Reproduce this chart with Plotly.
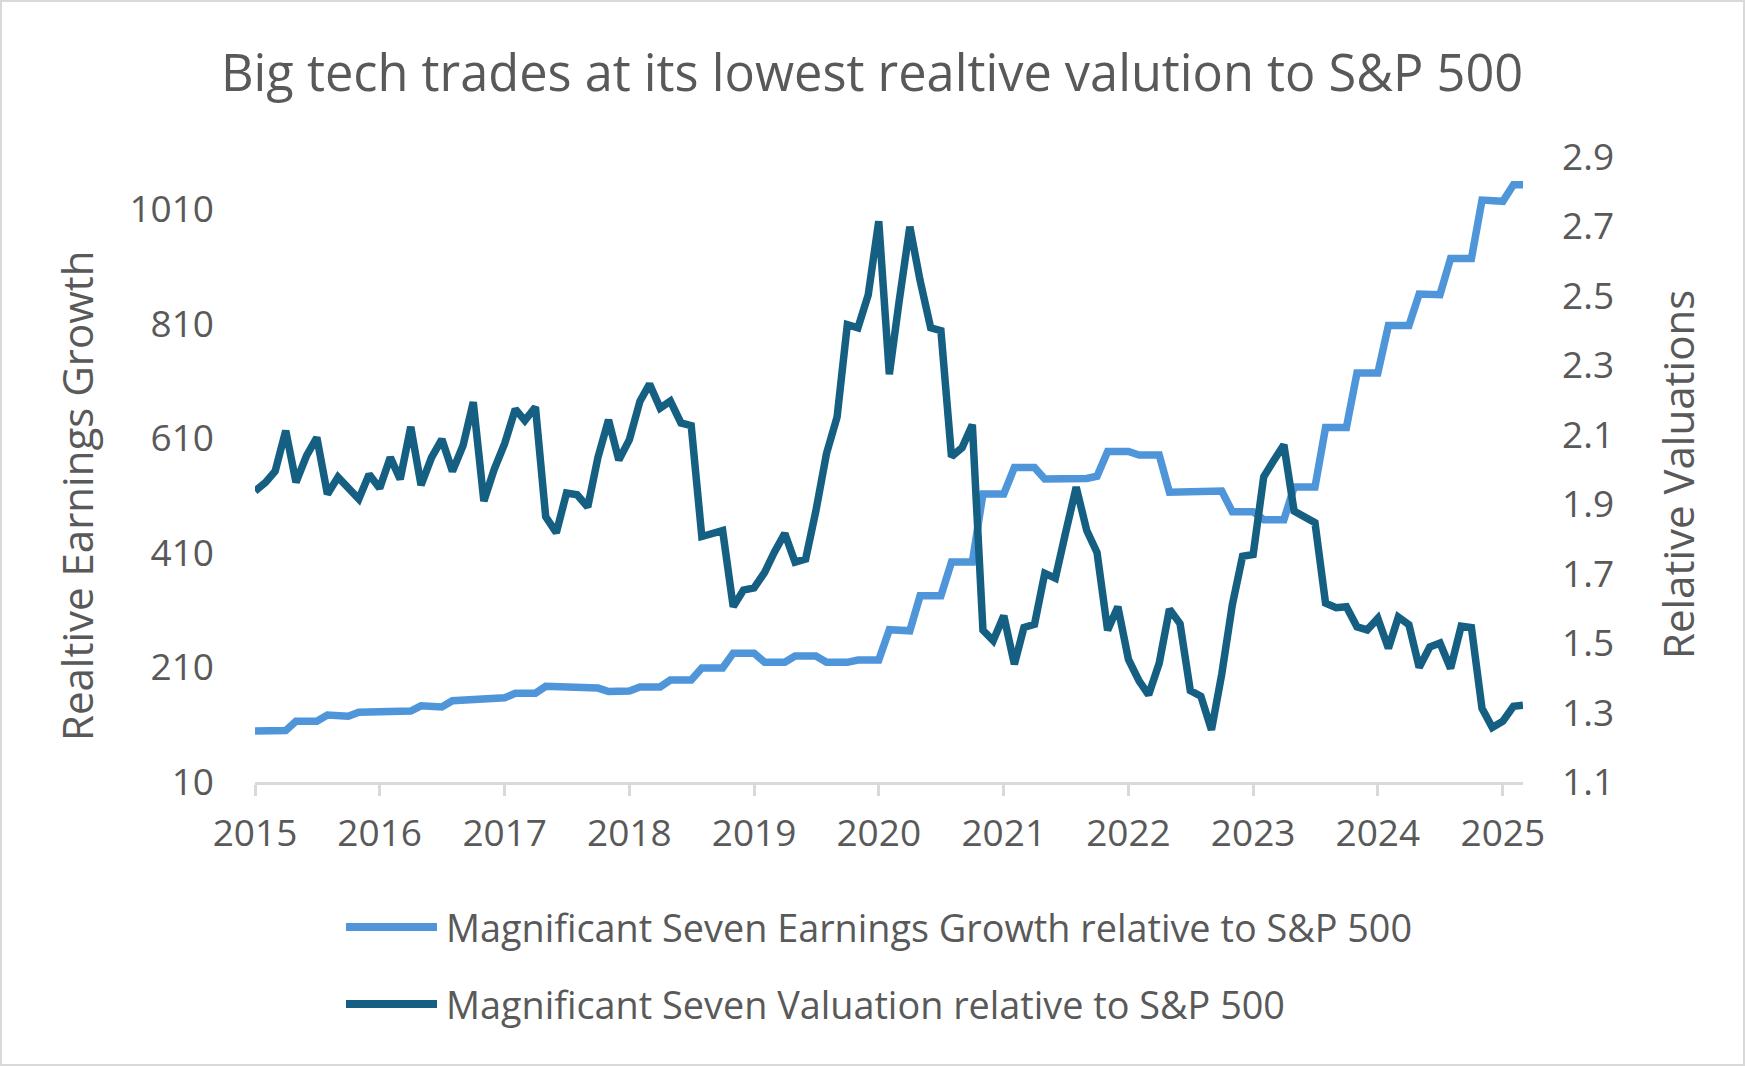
import plotly.graph_objects as go
import pandas as pd

# ---------------- data ----------------
dates = pd.date_range("2015-01-01", periods=123, freq="MS")

earnings_growth = [
    99, 100, 100, 100,
    116, 116, 116, 127, 126, 125, 132, 132, 132, 133, 134, 134,
    143, 142, 141, 152, 153, 155, 157, 157, 157, 165, 165, 165,
    177, 177, 177, 174, 174, 174, 168, 169, 169, 176, 176, 176,
    188, 188, 188, 209, 209, 209, 235, 235, 235, 219, 219, 219,
    230, 230, 230, 219, 219, 219, 223, 223, 223, 276, 275, 274,
    335, 335, 335, 394, 394, 394, 513, 513, 513, 559, 559, 559,
    539, 539, 539, 539, 540, 544, 587, 587, 587, 581, 581, 581,
    516, 517, 518, 519, 519, 518, 482, 482, 482, 468, 468, 468,
    525, 525, 525, 629, 629, 629, 724, 724, 724, 807, 807, 807,
    862, 862, 861, 924, 924, 924, 1026, 1025, 1024, 1053, 1053,
]

valuation = [
    1.938, 1.963, 1.995, 2.112, 1.963, 2.040, 2.092, 1.929, 1.978, 1.944, 1.915, 1.986,
    1.946, 2.035, 1.972, 2.123, 1.955, 2.035, 2.087, 1.995, 2.069, 2.194, 1.909, 2.000,
    2.075, 2.174, 2.141, 2.180, 1.864, 1.818, 1.932, 1.927, 1.892, 2.035, 2.143, 2.027,
    2.086, 2.197, 2.246, 2.177, 2.197, 2.134, 2.126, 1.807, 1.815, 1.824, 1.605, 1.653,
    1.659, 1.704, 1.761, 1.816, 1.733, 1.742, 1.881, 2.046, 2.151, 2.417, 2.408, 2.502,
    2.715, 2.274, 2.487, 2.699, 2.544, 2.408, 2.400, 2.037, 2.063, 2.129, 1.537, 1.507,
    1.579, 1.439, 1.545, 1.554, 1.701, 1.687, 1.818, 1.949, 1.824, 1.761, 1.537, 1.605,
    1.453, 1.391, 1.351, 1.442, 1.598, 1.556, 1.363, 1.347, 1.250, 1.410, 1.610, 1.750,
    1.755, 1.979, 2.024, 2.071, 1.880, 1.864, 1.847, 1.615, 1.602, 1.605, 1.547, 1.538,
    1.571, 1.485, 1.575, 1.553, 1.430, 1.489, 1.500, 1.427, 1.549, 1.545, 1.312, 1.257,
    1.275, 1.318, 1.321,
]

series_names = [
    "Magnificant Seven Earnings Growth relative to S&P 500",
    "Magnificant Seven Valuation relative to S&P 500",
]
title_text = "Big tech trades at its lowest realtive valution to S&P 500"
left_title = "Realtive Earnings Growth"
right_title = "Relative Valuations"
left_ticks = [10, 210, 410, 610, 810, 1010]
right_ticks = [1.1, 1.3, 1.5, 1.7, 1.9, 2.1, 2.3, 2.5, 2.7, 2.9]

# ---------------- styling ----------------
W, H = 1745, 1066
ML, MR, MT, MB = 255, 222, 157, 284
PW, PH = W - ML - MR, H - MT - MB
LIGHT = "#4E95D9"
DARK = "#156082"
TXT = "#595959"
GRID = "#D9D9D9"
FONT = "Open Sans"
TICK_SIZE = 37

fig = go.Figure()
fig.add_trace(go.Scatter(x=dates, y=earnings_growth, name=series_names[0],
                         mode="lines", line=dict(color=LIGHT, width=7.5),
                         yaxis="y", showlegend=False))
fig.add_trace(go.Scatter(x=dates, y=valuation, name=series_names[1],
                         mode="lines", line=dict(color=DARK, width=7.5),
                         yaxis="y2", showlegend=False))

def px_x(p):
    return (p - ML) / PW

def px_y(p):
    return 1 - (p - MT) / PH

annotations = [
    dict(text=title_text, x=px_x(872), xref="paper", y=px_y(71), yref="paper",
         showarrow=False, font=dict(size=50.5, color=TXT, family=FONT),
         xanchor="center", yanchor="middle"),
    dict(text=left_title, x=px_x(76), xref="paper", y=px_y(496), yref="paper",
         showarrow=False, textangle=-90, font=dict(size=42, color=TXT, family=FONT),
         xanchor="center", yanchor="middle"),
    dict(text=right_title, x=px_x(1677), xref="paper", y=px_y(475), yref="paper",
         showarrow=False, textangle=-90, font=dict(size=42, color=TXT, family=FONT),
         xanchor="center", yanchor="middle"),
]
shapes = [
    dict(type="rect", xref="paper", yref="paper",
         x0=px_x(1), x1=px_x(W - 1), y0=px_y(H - 1), y1=px_y(1),
         line=dict(color=GRID, width=2), fillcolor="rgba(0,0,0,0)", layer="below"),
]
legend_rows = [(927, LIGHT, series_names[0]), (1004, DARK, series_names[1])]
for yy, col, name in legend_rows:
    shapes.append(dict(type="line", xref="paper", yref="paper",
                       x0=px_x(346), x1=px_x(437), y0=px_y(yy), y1=px_y(yy),
                       line=dict(color=col, width=8)))
    annotations.append(dict(text=name, x=px_x(444), xref="paper", y=px_y(yy), yref="paper",
                            showarrow=False, xanchor="left", yanchor="middle",
                            font=dict(size=37.8, color=TXT, family=FONT)))

fig.update_layout(
    width=W, height=H,
    margin=dict(l=ML, r=MR, t=MT, b=MB, pad=0),
    paper_bgcolor="white", plot_bgcolor="white",
    font=dict(family=FONT, color=TXT, size=TICK_SIZE),
    xaxis=dict(
        type="date", range=[dates[0], dates[-1]],
        tickformat="%Y", dtick="M12", tick0="2015-01-01",
        showgrid=False, zeroline=False,
        showline=True, linecolor=GRID, linewidth=2.5,
        ticks="outside", ticklen=11, tickwidth=2.5, tickcolor=GRID,
        tickfont=dict(size=TICK_SIZE, color=TXT, family=FONT), ticklabelstandoff=6,
    ),
    yaxis=dict(
        range=[10, 10 + 1000 * 625.1 / 572.8], tickvals=left_ticks,
        showgrid=False, zeroline=False, showline=False, ticks="",
        tickfont=dict(size=TICK_SIZE, color=TXT, family=FONT), ticklabelstandoff=40,
    ),
    yaxis2=dict(
        range=[1.1, 2.9], tickvals=right_ticks, tickformat=".1f",
        overlaying="y", side="right",
        showgrid=False, zeroline=False, showline=False, ticks="",
        tickfont=dict(size=TICK_SIZE, color=TXT, family=FONT), ticklabelstandoff=38,
    ),
    annotations=annotations, shapes=shapes,
)

fig.write_html("out.html")
